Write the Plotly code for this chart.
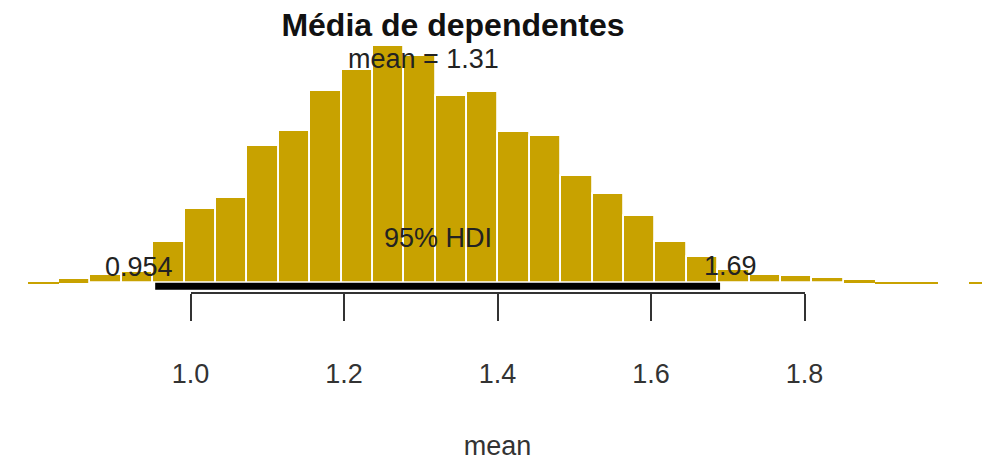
import plotly.graph_objects as go

# ---- data ----
bin_start = 0.7879          # left edge of first histogram bin
bin_width = 0.04089         # histogram bin width
density = [0.012, 0.04, 0.08, 0.11, 0.42, 0.75, 0.86, 1.39, 1.54, 1.94,
           2.15, 2.40, 2.30, 1.89, 1.93, 1.53, 1.49, 1.08, 0.90, 0.68,
           0.42, 0.27, 0.13, 0.08, 0.07, 0.05, 0.03, 0.015, 0.015, 0.0, 0.012]
mean_val = 1.31
hdi_low = 0.954
hdi_high = 1.69
tick_vals = [1.0, 1.2, 1.4, 1.6, 1.8]
tick_text = ["1.0", "1.2", "1.4", "1.6", "1.8"]
title_text = "Média de dependentes"
axis_title = "mean"

BAR_COLOR = "#C8A200"
FONT = "Liberation Sans, Arial, sans-serif"
W, H = 982, 462

# white bar borders, dropped on the near-zero tail bins so they stay visible
border_w = [0 if d < 0.05 else 1.8 for d in density]
border_c = ["#B9B28A" if d < 0.05 else "white" for d in density]

fig = go.Figure()

fig.add_trace(go.Bar(
    x0=bin_start + bin_width / 2, dx=bin_width, y=density,
    width=bin_width,
    marker=dict(color=BAR_COLOR, line=dict(color=border_c, width=border_w)),
    hoverinfo="skip", showlegend=False,
))

# HDI line
fig.add_trace(go.Scatter(
    x=[hdi_low, hdi_high], y=[-0.03, -0.03], mode="lines",
    line=dict(color="black", width=7), hoverinfo="skip", showlegend=False,
))

# invisible trace so the visible axis (x2) gets drawn
fig.add_trace(go.Scatter(
    x=[tick_vals[0], tick_vals[-1]], y=[0, 0], xaxis="x2", yaxis="y",
    mode="markers", marker=dict(opacity=0), hoverinfo="skip", showlegend=False,
))

txt = dict(family=FONT, size=27, color="#222")
peak = max(density)
fig.add_annotation(x=mean_val, y=0.9 * peak, text=f"mean = {mean_val}",
                   showarrow=False, xanchor="center", yanchor="bottom",
                   xshift=-5, yshift=-7, font=txt)
fig.add_annotation(x=(hdi_low + hdi_high) / 2, y=0, text="95% HDI",
                   showarrow=False, xanchor="center", yanchor="middle",
                   yshift=45, font=txt)
fig.add_annotation(x=hdi_low, y=0, text=f"{hdi_low}",
                   showarrow=False, xanchor="center", yanchor="middle",
                   xshift=-16, yshift=16, font=txt)
fig.add_annotation(x=hdi_high, y=0, text=f"{hdi_high}",
                   showarrow=False, xanchor="center", yanchor="middle",
                   xshift=10, yshift=17, font=txt)

px_per_unit = 767.5
x1_px = 190.5
x_left = 1.0 - x1_px / px_per_unit
x_right = 1.0 + (W - x1_px) / px_per_unit
base_px = 283.3
y_scale = 99.0
y_top = base_px / y_scale
y_bot = -(H - base_px) / y_scale

fig.update_layout(
    width=W, height=H, autosize=False,
    margin=dict(l=0, r=0, t=0, b=0, pad=0, autoexpand=False),
    paper_bgcolor="white", plot_bgcolor="rgba(0,0,0,0)",
    bargap=0,
    title=dict(text=f"<b>{title_text}</b>", x=453 / W, xanchor="center",
               y=1 - 25 / H, yanchor="middle", yref="container",
               font=dict(family=FONT, size=32, color="#111")),
    xaxis=dict(range=[x_left, x_right], visible=False),
    yaxis=dict(range=[y_bot, y_top], visible=False),
    xaxis2=dict(
        domain=[x1_px / W, (x1_px + 0.8 * px_per_unit) / W],
        range=[tick_vals[0], tick_vals[-1]],
        anchor="free", position=1 - 293.3 / H,
        showline=True, linecolor="#333", linewidth=1.5,
        ticks="outside", ticklen=27, tickwidth=1.5, tickcolor="#333",
        tickvals=tick_vals, ticktext=tick_text,
        tickfont=dict(family=FONT, size=27, color="#333"),
        ticklabelstandoff=30,
        showgrid=False, zeroline=False,
        title=dict(text=axis_title, font=dict(family=FONT, size=27, color="#333"),
                   standoff=47),
    ),
    showlegend=False,
)

post = ("document.body.style.margin='0';"
        "document.body.style.overflow='hidden';"
        "document.documentElement.style.overflow='hidden';")
fig.write_html("out.html", post_script=post, config={"displayModeBar": False})
